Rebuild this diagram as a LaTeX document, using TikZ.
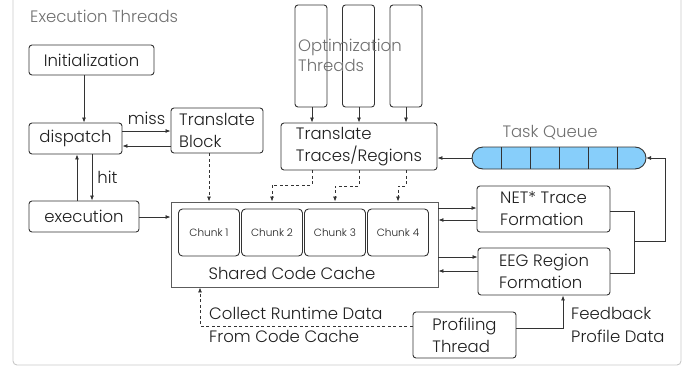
\documentclass[tikz,border=0pt]{standalone}
\usepackage{fontspec}
\IfFontExistsTF{Poppins Light}{\setmainfont{Poppins Light}}{\setmainfont{Poppins}}
\usetikzlibrary{arrows.meta,calc}
\definecolor{linec}{HTML}{333333}
\definecolor{framec}{HTML}{C8C8C8}
\definecolor{labelc}{HTML}{707070}
\definecolor{queuec}{HTML}{87CEFA}
\tikzset{
  box/.style={draw=linec, line width=0.9pt, rounded corners=3pt, inner sep=2pt,
              align=left, font=\fontsize{16.5}{22}\selectfont, text=black!88},
  sqbox/.style={draw=linec!80, line width=0.9pt, inner sep=0pt},
  chunk/.style={draw=linec, line width=0.9pt, rounded corners=4pt, minimum width=61pt,
                minimum height=47pt, font=\fontsize{10.5}{12}\selectfont, text=black!88},
  thread/.style={draw=linec, line width=0.9pt, rounded corners=3pt, minimum width=32pt,
                 minimum height=102pt},
  arr/.style={draw=linec, line width=0.8pt, -{Latex[length=5pt,width=4pt]}},
  plain/.style={draw=linec, line width=0.8pt},
  darr/.style={arr, dashed, dash pattern=on 3pt off 2.5pt},
  lbl/.style={font=\fontsize{16.5}{22.5}\selectfont, text=black!88, align=left, inner sep=0pt},
  grey/.style={font=\fontsize{16.5}{20}\selectfont, text=labelc, align=left, inner sep=0pt},
}
\begin{document}
\begin{tikzpicture}[x=1pt,y=-1pt]
\useasboundingbox (0,0) rectangle (695,370);
% outer frame, top edge runs past the page
\begin{scope}
\clip (0,0) rectangle (695,370);
\draw[framec, line width=0.9pt, rounded corners=4pt] (13,-20) rectangle (681,365);
\end{scope}
\node[grey, anchor=west] (title) at (30,16) {Execution Threads};

% execution thread
\node[box, minimum width=125pt, minimum height=30pt] (init) at (91.5,60) {Initialization};
\node[box, minimum width=93pt, minimum height=31pt] (disp) at (75.5,138.5) {dispatch};
\node[box, minimum width=92pt, minimum height=45pt] (tb) at (217,130.5) {Translate\\Block};
\node[box, minimum width=110pt, minimum height=31pt] (exec) at (84,216.5) {execution};

% shared code cache
\node[sqbox, minimum width=267pt, minimum height=85pt] (scc) at (304.5,244.5) {};
\node[chunk] (c1) at (209,232.5) {Chunk 1};
\node[chunk] (c2) at (272,232.5) {Chunk 2};
\node[chunk] (c3) at (335,232.5) {Chunk 3};
\node[chunk] (c4) at (398,232.5) {Chunk 4};
\node[lbl] (scct) at (292,273) {Shared Code Cache};

% optimization threads
\node[thread] (t1) at (311,56) {};
\node[thread] (t2) at (358.5,56) {};
\node[thread] (t3) at (406,56) {};
\node[grey, anchor=west] (optl) at (298,55) {Optimization\\Threads};
\node[box, minimum width=156pt, minimum height=47pt] (tt) at (359,146.5) {Translate\\Traces/Regions};

% task queue
\node[grey] (tql) at (550,133) {Task Queue};
\draw[linec, line width=0.9pt, fill=queuec, rounded corners=11pt] (472,147) rectangle (646,169);
\foreach \x in {501,530,559,588,617} \draw[linec, line width=0.8pt] (\x,147) -- (\x,169);
\coordinate (tqw) at (472,158);
\coordinate (tqe) at (646,158);

% trace and region formation
\node[box, minimum width=133pt, minimum height=46pt] (net) at (543.5,209) {NET* Trace\\Formation};
\node[box, minimum width=132pt, minimum height=47pt] (eeg) at (544,271.5) {EEG Region\\Formation};

% profiling
\node[box, minimum width=103pt, minimum height=46pt] (prof) at (464.5,335) {Profiling\\Thread};
\node[lbl, anchor=west] (fbl) at (571,325) {Feedback\\Profile Data};
\node[lbl, anchor=west] (crl) at (209,325) {Collect Runtime Data\\From Code Cache};

% execution connectors
\draw[arr] (init.south -| 84,0) -- (disp.north -| 84,0);
\draw[arr] (disp.east |- 0,131) -- (tb.west |- 0,131) node[lbl, midway, above=6pt] (miss) {miss};
\draw[arr] (tb.west |- 0,146) -- (disp.east |- 0,146);
\draw[arr] (disp.south -| 92,0) -- (exec.north -| 92,0) node[lbl, midway, right=5pt] (hit) {hit};
\draw[arr] (exec.north -| 77,0) -- (disp.south -| 77,0);
\draw[arr] (exec.east |- 0,217) -- (scc.west |- 0,217);

% translation into the cache
\draw[darr] (tb.south -| 209,0) -- (scc.north -| 209,0);
\draw[arr] (t1.south -| 312,0) -- (tt.north -| 312,0);
\draw[arr] (t2.south -| 359,0) -- (tt.north -| 359,0);
\draw[arr] (t3.south -| 406,0) -- (tt.north -| 406,0);
\draw[darr] (tt.south -| 312,0) -- (312,185) -- (272,185) -- (scc.north -| 272,0);
\draw[darr] (tt.south -| 359,0) -- (359,186) -- (335,186) -- (scc.north -| 335,0);
\draw[darr] (tt.south -| 406,0) -- (406,186) -- (398,186) -- (scc.north -| 398,0);
\draw[arr] (tqw) -- (tt.east |- tqw);

% cache <-> formation
\draw[arr] (scc.east |- 0,208) -- (net.west |- 0,208);
\draw[arr] (net.west |- 0,220) -- (scc.east |- 0,220);
\draw[arr] (scc.east |- 0,257) -- (eeg.west |- 0,257);
\draw[arr] (eeg.west |- 0,271) -- (scc.east |- 0,271);

% formation results back to the queue
\draw[plain] (net.east |- 0,211) -- (634,211) -- (634,273) -- (eeg.east |- 0,273);
\draw[arr] (634,241) -- (665,241) -- (665,158) -- (tqe);

% profiling feedback
\draw[arr] (prof.east |- 0,328) -- (563,328) -- (eeg.south -| 563,0);
\draw[darr] (prof.west |- 0,326) -- (200,326) -- (scc.south -| 200,0);
\end{tikzpicture}
\end{document}
